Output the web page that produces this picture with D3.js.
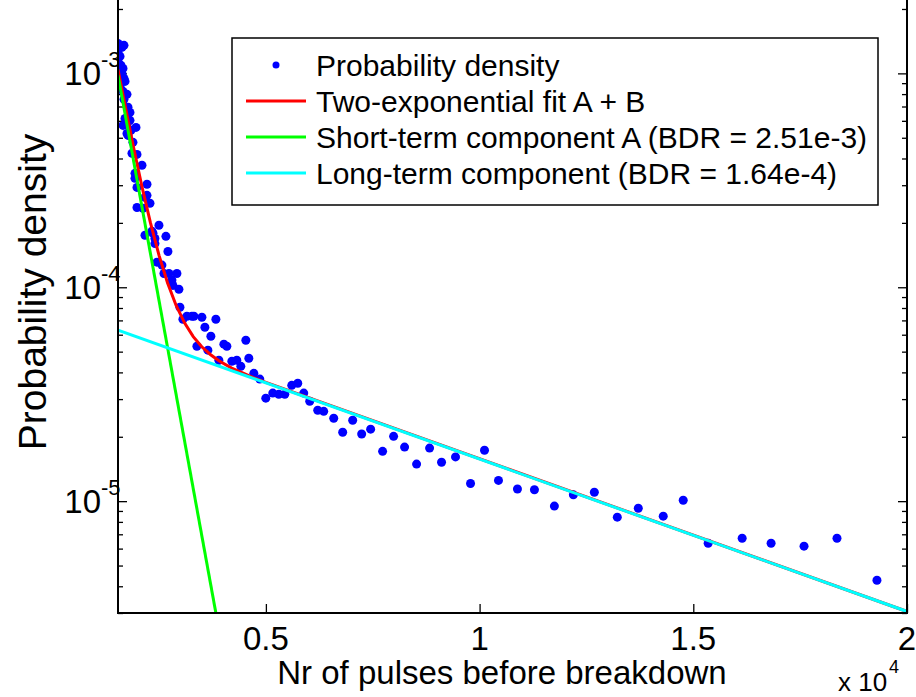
<!DOCTYPE html>
<html><head><meta charset="utf-8">
<script src="https://cdn.jsdelivr.net/npm/d3@7"></script>
<style>
body{margin:0;background:#fff}
svg{display:block}
text{font-family:"Liberation Sans",Arial,Helvetica,sans-serif;fill:#000}
</style>
</head><body>
<svg id="chart" width="916" height="697"></svg>
<script>
// ---- data ----
const pulses = [1540,1633,1680,1540,1587,1540,1610,1657,1633,1680,1704,1587,1657,1750,1680,1774,1820,1704,1820,1657,1750,1961,1844,1750,1774,1890,1867,1984,2101,1937,1937,2218,1984,2218,2171,2288,1984,2124,2498,2334,2358,2171,2661,2404,2404,2708,2451,2568,2615,2732,2918,2802,2825,2965,2989,3059,3152,3269,3316,3503,3830,3573,3713,3386,3643,4017,4087,4531,4601,3900,4204,4320,4414,4718,4858,4998,5161,5302,5442,5605,5746,5886,6026,6213,6353,6587,6797,7031,7241,7451,7731,7988,8245,8526,8830,9110,9437,9788,10115,10442,10886,11283,11750,12194,12685,13222,13713,14297,14764,15348,16143,16820,17591,18362,19297];
const density = [1.381e-3,1.323e-3,1.352e-3,1.254e-3,1.200e-3,1.138e-3,1.090e-3,1.055e-3,1.000e-3,9.48e-4,9.17e-4,8.69e-4,8.24e-4,7.98e-4,7.56e-4,6.94e-4,6.57e-4,6.16e-4,6.03e-4,5.71e-4,5.78e-4,5.59e-4,5.42e-4,5.24e-4,5.13e-4,4.76e-4,4.23e-4,4.18e-4,3.72e-4,3.41e-4,3.23e-4,3.03e-4,2.93e-4,2.69e-4,2.63e-4,2.47e-4,2.36e-4,2.34e-4,1.95e-4,1.83e-4,1.79e-4,1.75e-4,1.73e-4,1.69e-4,1.60e-4,1.47e-4,1.31e-4,1.27e-4,1.16e-4,1.16e-4,1.16e-4,1.08e-4,1.02e-4,9.79e-5,8.06e-5,7.09e-5,7.32e-5,7.32e-5,7.32e-5,7.24e-5,7.09e-5,6.50e-5,5.90e-5,5.30e-5,5.08e-5,5.42e-5,5.30e-5,5.65e-5,4.66e-5,4.56e-5,4.51e-5,4.56e-5,4.27e-5,3.96e-5,3.72e-5,3.03e-5,3.20e-5,3.16e-5,3.16e-5,3.48e-5,3.56e-5,3.20e-5,2.93e-5,2.66e-5,2.63e-5,2.44e-5,2.10e-5,2.39e-5,2.06e-5,2.17e-5,1.71e-5,2.01e-5,1.79e-5,1.49e-5,1.77e-5,1.52e-5,1.61e-5,1.21e-5,1.73e-5,1.25e-5,1.14e-5,1.13e-5,9.48e-6,1.07e-5,1.10e-5,8.42e-6,9.27e-6,8.51e-6,1.01e-5,6.36e-6,6.71e-6,6.36e-6,6.16e-6,6.71e-6,4.27e-6];

const fitX = [1540,1700,1900,2100,2300,2500,2700,2900,3100,3300,3500,3700,3900,4200,4600,5000,20000];
const fitY = [1.043e-3,7.16e-4,4.55e-4,2.96e-4,2.00e-4,1.41e-4,1.048e-4,8.22e-5,6.80e-5,5.88e-5,5.27e-5,4.85e-5,4.53e-5,4.19e-5,3.86e-5,3.59e-5,3.05e-6];

const shortX = [1540, 3830];
const shortY = [9.8e-4, 3.0e-6];

const longX = [1540, 20000];
const longY = [6.3e-5, 3.05e-6];

const xTicks = [5000, 10000, 15000, 20000];
const xTickLabels = ["0.5", "1", "1.5", "2"];
const yTicks = [1e-5, 1e-4, 1e-3];
const yTickExps = ["-5", "-4", "-3"];
const legendLabels = ["Probability density", "Two-exponential fit A + B",
  "Short-term component A (BDR = 2.51e-3)", "Long-term component (BDR = 1.64e-4)"];
const seriesColors = ["#0000ff", "#ff0000", "#00ff00", "#00ffff"];

// ---- layout ----
const L = 118, R = 907, T = -4, B = 613;
const svg = d3.select("#chart");

const x = d3.scaleLinear().domain([1540, 20000]).range([L, R]);
const y = d3.scaleLog().domain([3.0e-6, 2.3e-3]).range([B, T]);

svg.append("defs").append("clipPath").attr("id", "clip")
  .append("rect").attr("x", L).attr("y", T).attr("width", R - L).attr("height", B - T);

// minor log ticks
const minor = [];
for (let e = -6; e <= -3; e++) for (let m = 2; m <= 9; m++) {
  const v = m * Math.pow(10, e);
  if (v >= 3.0e-6 && v <= 2.3e-3) minor.push(v);
}

// left axis
svg.append("g").attr("transform", `translate(${L},0)`)
  .call(d3.axisLeft(y).tickValues(yTicks).tickSize(-9).tickFormat(""))
  .call(g => g.select(".domain").remove());
svg.append("g").attr("transform", `translate(${L},0)`)
  .call(d3.axisLeft(y).tickValues(minor).tickSize(-5).tickFormat(""))
  .call(g => g.select(".domain").remove());
// right axis
svg.append("g").attr("transform", `translate(${R},0)`)
  .call(d3.axisRight(y).tickValues(yTicks).tickSize(-9).tickFormat(""))
  .call(g => g.select(".domain").remove());
svg.append("g").attr("transform", `translate(${R},0)`)
  .call(d3.axisRight(y).tickValues(minor).tickSize(-5).tickFormat(""))
  .call(g => g.select(".domain").remove());
// bottom axis
svg.append("g").attr("transform", `translate(0,${B})`)
  .call(d3.axisBottom(x).tickValues(xTicks).tickSize(-9).tickFormat(""))
  .call(g => g.select(".domain").remove());

svg.selectAll(".tick line").attr("stroke", "#000").attr("stroke-width", 1.3);

// y tick labels
const yl = svg.append("g");
yTicks.forEach((v, i) => {
  yl.append("text").attr("x", 101).attr("y", y(v) + 12)
    .attr("text-anchor", "end").attr("font-size", 33).text("10");
  yl.append("text").attr("x", 101).attr("y", y(v) - 6)
    .attr("font-size", 22).text(yTickExps[i]);
});
// x tick labels
xTicks.forEach((v, i) => {
  svg.append("text").attr("x", x(v)).attr("y", B + 37)
    .attr("text-anchor", "middle").attr("font-size", 33).text(xTickLabels[i]);
});

// axis titles
svg.append("text").attr("x", 502).attr("y", 684).attr("text-anchor", "middle")
  .attr("font-size", 33).text("Nr of pulses before breakdown");
svg.append("text").attr("transform", "translate(46,292) rotate(-90)")
  .attr("text-anchor", "middle").attr("font-size", 39).text("Probability density");
svg.append("text").attr("x", 838).attr("y", 691).attr("font-size", 26).text("x 10");
svg.append("text").attr("x", 889).attr("y", 673).attr("font-size", 18).text("4");

// plot content
const plot = svg.append("g").attr("clip-path", "url(#clip)");
plot.selectAll("circle.pt").data(pulses.map((p, i) => [p, density[i]]))
  .join("circle").attr("class", "pt")
  .attr("cx", d => x(d[0])).attr("cy", d => y(d[1])).attr("r", 4.5)
  .attr("fill", seriesColors[0]);

const line = d3.line().x(d => x(d[0])).y(d => y(d[1]));
const drawLine = (xs, ys, c) => plot.append("path")
  .attr("d", line(xs.map((v, i) => [v, ys[i]])))
  .attr("fill", "none").attr("stroke", c).attr("stroke-width", 3);
drawLine(fitX, fitY, seriesColors[1]);
drawLine(shortX, shortY, seriesColors[2]);
drawLine(longX, longY, seriesColors[3]);

// axes box
svg.append("path").attr("d", `M${L},${T}V${B}H${R}V${T}Z`)
  .attr("fill", "none").attr("stroke", "#000").attr("stroke-width", 2);

// legend
const lg = svg.append("g");
lg.append("rect").attr("x", 232).attr("y", 38).attr("width", 646).attr("height", 167)
  .attr("fill", "#fff").attr("stroke", "#000").attr("stroke-width", 1.5);
const rowY = [65, 101, 137, 173];
legendLabels.forEach((lab, i) => {
  if (i === 0) {
    lg.append("circle").attr("cx", 276).attr("cy", rowY[i]).attr("r", 3.5).attr("fill", seriesColors[0]);
  } else {
    lg.append("line").attr("x1", 246).attr("x2", 306).attr("y1", rowY[i]).attr("y2", rowY[i])
      .attr("stroke", seriesColors[i]).attr("stroke-width", 3);
  }
  lg.append("text").attr("x", 316).attr("y", rowY[i] + 11).attr("font-size", 30).text(lab);
});
</script>
</body></html>
